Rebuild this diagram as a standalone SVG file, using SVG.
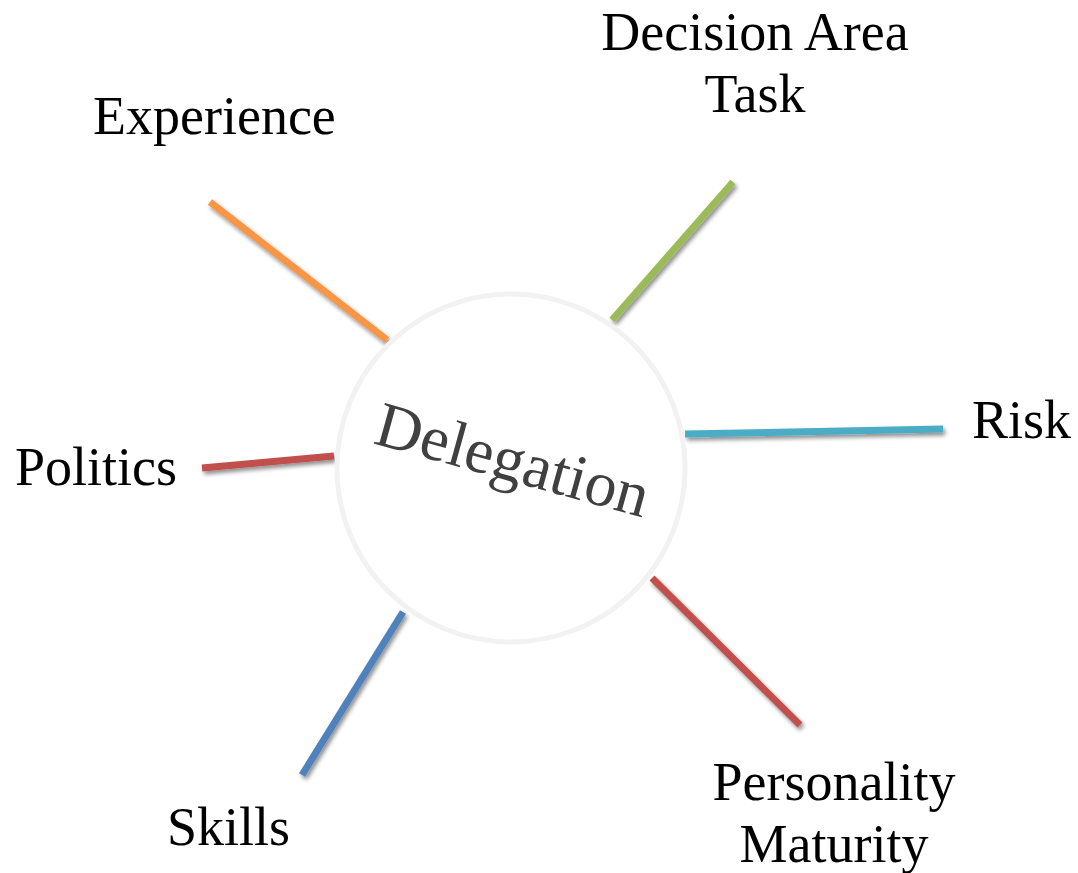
<svg xmlns="http://www.w3.org/2000/svg" width="1078" height="873" viewBox="0 0 1078 873">
<defs>
<filter id="sh" filterUnits="userSpaceOnUse" x="0" y="0" width="1078" height="873">
<feGaussianBlur in="SourceAlpha" stdDeviation="2"/>
<feOffset dx="2" dy="3" result="b"/>
<feComponentTransfer><feFuncA type="linear" slope="0.45"/></feComponentTransfer>
<feMerge><feMergeNode/><feMergeNode in="SourceGraphic"/></feMerge>
</filter>
<style>
.lbl{font-family:"Liberation Serif","Times New Roman",serif;font-size:54px;fill:#000}
.c{stroke-width:7;fill:none;filter:url(#sh)}
</style>
</defs>
<rect width="1078" height="873" fill="#fff"/>
<g id="connectors">
<line class="c" x1="210" y1="202" x2="387" y2="340" stroke="#f79646"/>
<line class="c" x1="733" y1="182" x2="612" y2="320" stroke="#9bbb59"/>
<line class="c" x1="685" y1="434" x2="943" y2="429" stroke="#4bacc6"/>
<line class="c" x1="202" y1="468" x2="334" y2="456" stroke="#c0504d"/>
<line class="c" x1="403" y1="612" x2="302" y2="775" stroke="#4f81bd"/>
<line class="c" x1="652" y1="578" x2="800" y2="725" stroke="#c0504d"/>
</g>
<g id="center">
<circle cx="511" cy="468" r="174" fill="#fff" stroke="#f2f2f2" stroke-width="5"/>
<text x="0" y="0" transform="translate(372,443) rotate(15.4)" style="font-family:'Liberation Serif','Times New Roman',serif;font-size:64px;fill:#404040">Delegation</text>
</g>
<g id="experience"><text class="lbl" x="93" y="134">Experience</text></g>
<g id="decision"><text class="lbl" x="755" y="50" text-anchor="middle">Decision Area</text><text class="lbl" x="755" y="112" text-anchor="middle">Task</text></g>
<g id="risk"><text class="lbl" x="972" y="438">Risk</text></g>
<g id="politics"><text class="lbl" x="15" y="485">Politics</text></g>
<g id="skills"><text class="lbl" x="167" y="845">Skills</text></g>
<g id="personality"><text class="lbl" x="834" y="800" text-anchor="middle">Personality</text><text class="lbl" x="834" y="862" text-anchor="middle">Maturity</text></g>
</svg>
